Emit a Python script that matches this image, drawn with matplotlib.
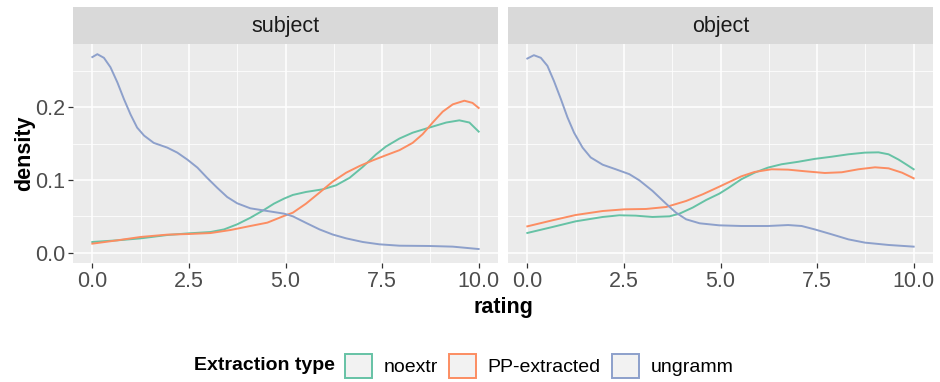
import numpy as np
import matplotlib
matplotlib.use("Agg")
import matplotlib.pyplot as plt
from matplotlib.patches import Patch

plt.rcParams['font.family'] = ['Liberation Sans', 'DejaVu Sans']

facets = ["subject", "object"]
groups = ["noextr", "PP-extracted", "ungramm"]
colors = {"noextr": "#66C2A5", "PP-extracted": "#FC8D62", "ungramm": "#8DA0CB"}

# density curves (rating, density)
subj_noextr_x = [0, 0.65, 1.25, 1.94, 2.5, 3.06, 3.41, 3.75, 4.09, 4.44, 4.70, 4.96,
                 5.19, 5.53, 5.97, 6.31, 6.66, 7.0, 7.34, 7.60, 7.95, 8.29, 8.72, 9.16, 9.50, 9.76, 10]
subj_noextr_y = [0.0147, 0.017, 0.0197, 0.0243, 0.0266, 0.0284, 0.032, 0.039, 0.048, 0.0587, 0.0674, 0.0743,
                 0.0794, 0.0835, 0.0872, 0.0927, 0.103, 0.118, 0.135, 0.146, 0.157, 0.165, 0.172, 0.179, 0.182, 0.179, 0.1665]
subj_pp_x = [0, 0.65, 1.25, 1.94, 2.5, 3.06, 3.58, 4.09, 4.53, 4.96,
             5.19, 5.53, 5.88, 6.22, 6.57, 6.91, 7.26, 7.60, 7.95, 8.29, 8.55, 8.81, 9.07, 9.33, 9.63, 9.84, 10]
subj_pp_y = [0.0124, 0.017, 0.0216, 0.0248, 0.0257, 0.027, 0.0312, 0.0367, 0.0413, 0.0505,
             0.055, 0.0674, 0.0826, 0.0977, 0.110, 0.119, 0.127, 0.134, 0.141, 0.151, 0.163, 0.179, 0.194, 0.204, 0.209, 0.206, 0.199]
subj_ung_x = [0, 0.13, 0.30, 0.47, 0.65, 0.82, 0.99, 1.16, 1.34, 1.59, 1.94, 2.20, 2.46, 2.72, 2.97,
              3.23, 3.49, 3.75, 4.09, 4.53, 4.96, 5.19, 5.53, 5.88, 6.22, 6.57, 7.0, 7.43, 7.95, 8.72, 9.33, 10]
subj_ung_y = [0.269, 0.273, 0.268, 0.255, 0.234, 0.211, 0.190, 0.172, 0.161, 0.151, 0.1445, 0.1376, 0.128, 0.117, 0.103,
              0.0894, 0.0766, 0.0679, 0.061, 0.0573, 0.0537, 0.050, 0.041, 0.032, 0.025, 0.0197, 0.0147, 0.0115, 0.0096, 0.0092, 0.0083, 0.005]

obj_noextr_x = [0, 0.65, 1.25, 1.95, 2.38, 2.81, 3.24, 3.68, 3.94, 4.28, 4.63, 4.97,
                5.19, 5.54, 5.88, 6.23, 6.58, 7.01, 7.44, 7.88, 8.31, 8.74, 9.09, 9.35, 9.61, 9.83, 10]
obj_noextr_y = [0.0271, 0.0353, 0.0431, 0.0491, 0.0514, 0.0509, 0.0491, 0.050, 0.0537, 0.062, 0.0725, 0.0812,
                0.0885, 0.101, 0.110, 0.117, 0.1216, 0.125, 0.129, 0.132, 0.1353, 0.1376, 0.138, 0.1353, 0.128, 0.1206, 0.1147]
obj_pp_x = [0, 0.65, 1.25, 1.95, 2.51, 3.07, 3.59, 4.11, 4.54, 4.97,
            5.19, 5.54, 5.88, 6.32, 6.75, 7.18, 7.70, 8.14, 8.57, 9.0, 9.35, 9.70, 10]
obj_pp_y = [0.0362, 0.0445, 0.0518, 0.0573, 0.0596, 0.0601, 0.0628, 0.0711, 0.0803, 0.0908,
            0.0963, 0.105, 0.111, 0.1147, 0.1142, 0.112, 0.1096, 0.1106, 0.1147, 0.1174, 0.116, 0.110, 0.1023]
obj_ung_x = [0, 0.17, 0.35, 0.52, 0.69, 0.87, 1.04, 1.21, 1.43, 1.64, 1.95, 2.29, 2.64, 2.90, 3.24,
             3.59, 3.85, 4.11, 4.46, 4.97, 5.54, 6.23, 6.75, 7.10, 7.44, 7.88, 8.31, 8.74, 9.35, 10]
obj_ung_y = [0.267, 0.2716, 0.268, 0.257, 0.236, 0.211, 0.186, 0.165, 0.1445, 0.131, 0.121, 0.1147, 0.108, 0.0995, 0.085,
             0.0674, 0.055, 0.0459, 0.0404, 0.0376, 0.0367, 0.0367, 0.038, 0.0367, 0.032, 0.0252, 0.0183, 0.0138, 0.0106, 0.0083]

curves = {
    "subject": {"noextr": (subj_noextr_x, subj_noextr_y),
                "PP-extracted": (subj_pp_x, subj_pp_y),
                "ungramm": (subj_ung_x, subj_ung_y)},
    "object": {"noextr": (obj_noextr_x, obj_noextr_y),
               "PP-extracted": (obj_pp_x, obj_pp_y),
               "ungramm": (obj_ung_x, obj_ung_y)},
}

x_ticks = [0, 2.5, 5, 7.5, 10]
x_labels = ["0.0", "2.5", "5.0", "7.5", "10.0"]
y_ticks = [0, 0.1, 0.2]
y_labels = ["0.0", "0.1", "0.2"]

W, H = 940, 382
fig = plt.figure(figsize=(9.4, 3.82), dpi=100)

panel_lefts = [73, 508]
panel_w = 425
panel_top, panel_bot = 44, 263
strip_top = 7

for i, facet in enumerate(facets):
    left = panel_lefts[i] / W
    ax = fig.add_axes([left, 1 - panel_bot / H, panel_w / W, (panel_bot - panel_top) / H])
    ax.set_facecolor("#EBEBEB")
    for s in ax.spines.values():
        s.set_visible(False)
    ax.set_xlim(-0.5, 10.5)
    ax.set_ylim(-0.0142, 0.287)
    ax.set_xticks(x_ticks)
    ax.set_xticklabels(x_labels)
    ax.set_xticks([1.25, 3.75, 6.25, 8.75], minor=True)
    ax.set_yticks(y_ticks)
    ax.set_yticks([0.05, 0.15, 0.25], minor=True)
    ax.grid(True, which="major", color="white", linewidth=1.1)
    ax.grid(True, which="minor", color="white", linewidth=0.55)
    ax.set_axisbelow(True)
    ax.tick_params(which="minor", length=0)
    ax.tick_params(which="major", length=3.7, width=0.9, color="#333333",
                   labelsize=15.5, labelcolor="#4D4D4D", pad=2)
    if i == 0:
        ax.set_yticklabels(y_labels)
    else:
        ax.tick_params(axis="y", which="major", length=0, labelleft=False)

    for g in groups:
        xs, ys = curves[facet][g]
        ax.plot(xs, ys, color=colors[g], linewidth=1.4, solid_joinstyle="round")

    # facet strip
    sax = fig.add_axes([left, 1 - panel_top / H, panel_w / W, (panel_top - strip_top) / H])
    sax.set_facecolor("#D9D9D9")
    sax.set_xticks([])
    sax.set_yticks([])
    for s in sax.spines.values():
        s.set_visible(False)
    sax.text(0.5, 0.47, facet, ha="center", va="center", fontsize=15.5,
             color="#1A1A1A", transform=sax.transAxes)

fig.text(25 / W, 1 - 153.5 / H, "density", rotation=90, ha="center", va="center",
         fontsize=15.5, fontweight="bold")
fig.text(503 / W, 1 - 308 / H, "rating", ha="center", va="center",
         fontsize=15.5, fontweight="bold")

# legend at the bottom
fig.text(194 / W, 1 - 366 / H, "Extraction type", ha="left", va="center",
         fontsize=14, fontweight="bold")
handles = [Patch(facecolor="#F2F2F2", edgecolor=colors[g], linewidth=1.4) for g in groups]
fig.legend(handles, groups, loc="center left", bbox_to_anchor=(345 / W, 1 - 366 / H),
           ncol=3, frameon=False, fontsize=14, handlelength=1.4, handleheight=1.55,
           handletextpad=0.6, columnspacing=0.55, borderpad=0, borderaxespad=0)

plt.savefig("out.png", dpi=100)
